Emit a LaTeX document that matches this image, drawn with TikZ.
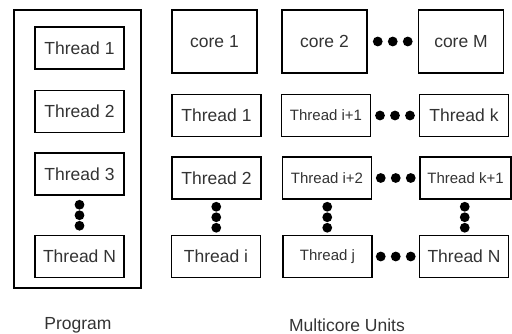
\documentclass[tikz,border=0pt]{standalone}
\usepackage{fontspec}
\setmainfont{Liberation Sans}
\usetikzlibrary{calc}
\tikzset{
  box/.style={draw, line width=1.3pt, minimum width=89pt, minimum height=42pt, inner sep=0pt, text=black!80, font=\fontsize{17.5}{20}\selectfont},
  smallbox/.style={box, font=\fontsize{15}{17}\selectfont},
  corebox/.style={box, minimum width=85pt, minimum height=63pt}
}
\newcommand{\dotsrow}[2]{%
  \foreach \t in {-1,0,1} \fill ($(#1.east)!0.5!(#2.west)+(\t*15,0)$) circle (4.9pt);}
\newcommand{\dotscol}[2]{%
  \foreach \t in {-1,0,1} \fill ($(#1.south)!0.5!(#2.north)+(0,\t*10.5)$) circle (4.9pt);}
\begin{document}
\begin{tikzpicture}[x=1pt, y=-1pt]
  \useasboundingbox (0,0) rectangle (512,334);
  % program with its threads
  \node[draw, line width=1.3pt, minimum width=127pt, minimum height=278pt] (prog) at (77.5,149) {};
  \node[box] (p1) at (79.5,48) {Thread 1};
  \node[box] (p2) at (79.5,111.5) {Thread 2};
  \node[box] (p3) at (79.5,174) {Thread 3};
  \node[box] (pN) at (79.5,256.5) {Thread N};
  \dotscol{p3}{pN}
  % cores
  \node[corebox] (c1) at (214.5,41.5) {core 1};
  \node[corebox] (c2) at (324.5,41.5) {core 2};
  \node[corebox] (cM) at (461,41.5) {core M};
  \dotsrow{c2}{cM}
  % threads on the cores
  \node[box] (a1) at (216.5,115.5) {Thread 1};
  \node[box] (a2) at (216.5,178) {Thread 2};
  \node[box] (ai) at (216,256.5) {Thread i};
  \dotscol{a2}{ai}
  \node[smallbox] (b1) at (326,115.5) {Thread i+1};
  \node[smallbox] (b2) at (327,178) {Thread i+2};
  \node[smallbox] (bj) at (327.5,256.5) {Thread j};
  \dotscol{b2}{bj}
  \node[box] (k1) at (464,115.5) {Thread k};
  \node[smallbox, minimum width=91pt] (k2) at (465.5,178) {Thread k+1};
  \node[box] (kN) at (464,256.5) {Thread N};
  \dotscol{k2}{kN}
  \dotsrow{b1}{k1}
  \dotsrow{b2}{k2}
  \dotsrow{bj}{kN}
  % captions
  \node[text=black!80, font=\fontsize{17.5}{20}\selectfont] (progl) at (78,325) {Program};
  \node[text=black!80, font=\fontsize{17.5}{20}\selectfont] (unitl) at (347,325) {Multicore Units};
\end{tikzpicture}
\end{document}
